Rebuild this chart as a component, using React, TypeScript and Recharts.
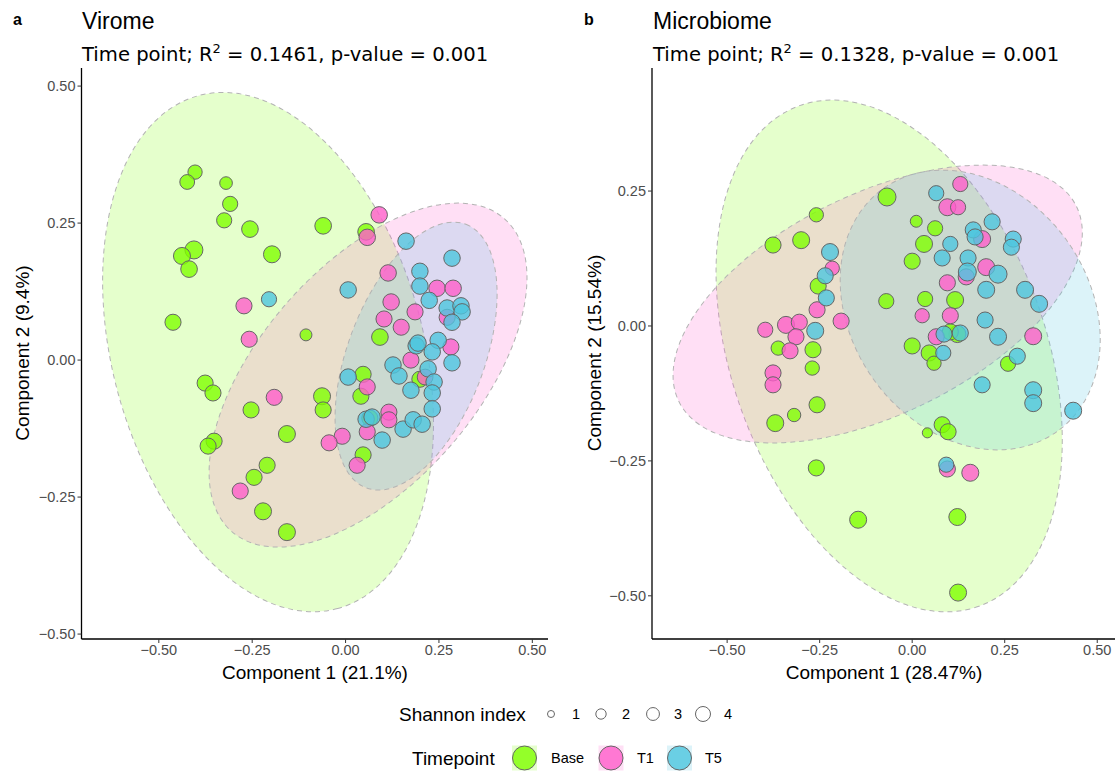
import React from 'react';
import { ScatterChart, Scatter, XAxis, YAxis, ZAxis } from 'recharts';

// ---------- categories & colours ----------
const timepoints = ['Base', 'T1', 'T5'];
const pointColors = ['#7FFF00', '#FF5ECB', '#4EC5DF'];
const shannonLegendValues = [1, 2, 3, 4];
const xTicks = [-0.5, -0.25, 0, 0.25, 0.5];
const yTicksVirome = [-0.5, -0.25, 0, 0.25, 0.5];
const yTicksMicrobiome = [-0.5, -0.25, 0, 0.25];

// ---------- Virome points [x, y, shannon] ----------
const viromeBase = [
  [-0.403, 0.343, 3.65], [-0.424, 0.325, 3.9], [-0.32, 0.323, 2.9], [-0.309, 0.285, 4.1],
  [-0.325, 0.255, 4.1], [-0.256, 0.239, 4.9], [-0.06, 0.245, 4.9], [-0.406, 0.201, 5.7],
  [-0.438, 0.19, 5.1], [-0.419, 0.166, 4.9], [-0.197, 0.193, 5.1], [-0.462, 0.069, 4.6],
  [-0.106, 0.046, 2.6], [0.055, 0.234, 4.9], [0.092, 0.042, 4.9], [-0.376, -0.042, 4.6],
  [-0.355, -0.06, 4.6], [-0.253, -0.091, 4.6], [-0.063, -0.066, 5.1], [-0.06, -0.091, 4.6],
  [0.047, -0.026, 4.6], [0.041, -0.066, 4.6], [0.199, -0.035, 4.6], [-0.352, -0.148, 4.6],
  [-0.368, -0.157, 4.6], [-0.157, -0.135, 5.1], [-0.21, -0.192, 4.6], [-0.245, -0.214, 4.6],
  [-0.221, -0.276, 5.1], [-0.157, -0.314, 5.1], [0.047, -0.173, 4.6], [0.065, -0.106, 4.6],
];
const viromeT1 = [
  [0.09, 0.265, 4.8], [0.058, 0.224, 4.8], [0.114, 0.159, 4.8], [0.245, 0.131, 4.8],
  [0.288, 0.131, 4.8], [0.272, 0.078, 4.6], [0.122, 0.106, 4.8], [0.186, 0.088, 4.6],
  [0.103, 0.075, 4.6], [0.149, 0.06, 4.6], [0.282, 0.024, 4.6], [0.175, 0.0, 4.6],
  [0.213, -0.031, 4.4], [0.058, -0.049, 4.6], [0.116, -0.095, 4.6], [0.116, -0.109, 4.6],
  [-0.009, -0.139, 4.6], [-0.044, -0.151, 4.6], [0.031, -0.192, 4.6], [0.058, -0.131, 4.6],
  [-0.272, 0.099, 4.6], [-0.258, 0.038, 4.6], [-0.191, -0.068, 4.6], [-0.282, -0.239, 4.6],
];
const viromeT5 = [
  [0.162, 0.217, 4.8], [0.285, 0.186, 4.8], [0.199, 0.162, 4.8], [0.199, 0.135, 4.8],
  [0.224, 0.109, 4.8], [0.272, 0.095, 4.8], [0.309, 0.099, 4.8], [0.312, 0.088, 4.8],
  [0.285, 0.069, 4.8], [-0.205, 0.111, 4.1], [0.007, 0.128, 4.8], [0.189, 0.026, 4.8],
  [0.194, 0.031, 4.8], [0.248, 0.036, 4.8], [0.232, 0.015, 4.8], [0.285, -0.005, 4.8],
  [0.127, -0.009, 4.8], [0.221, -0.016, 4.8], [0.143, -0.029, 4.8], [0.237, -0.04, 4.8],
  [0.175, -0.055, 4.8], [0.232, -0.06, 4.8], [0.232, -0.089, 4.8], [0.007, -0.031, 4.8],
  [0.055, -0.108, 4.8], [0.071, -0.104, 4.8], [0.154, -0.126, 4.8], [0.181, -0.109, 4.8],
  [0.205, -0.117, 4.8], [0.098, -0.146, 4.8],
];

// ---------- Microbiome points [x, y, shannon] ----------
const microBase = [
  [-0.068, 0.239, 5.7], [-0.259, 0.206, 3.65], [-0.3, 0.159, 5.1], [-0.376, 0.15, 4.6],
  [0.011, 0.194, 2.6], [0.062, 0.181, 4.1], [0.032, 0.152, 5.1], [0.0, 0.12, 4.6],
  [-0.254, 0.074, 4.6], [-0.07, 0.046, 4.1], [0.035, 0.05, 4.1], [0.116, 0.048, 5.1],
  [-0.362, -0.041, 3.65], [-0.268, -0.044, 4.6], [-0.27, -0.078, 3.65], [0.046, -0.05, 4.6],
  [0.0, -0.037, 4.6], [0.059, -0.069, 3.65], [0.122, -0.015, 5.1], [0.259, -0.07, 4.1],
  [-0.37, -0.18, 5.1], [-0.319, -0.165, 3.2], [-0.257, -0.146, 4.6], [0.041, -0.198, 1.9],
  [0.081, -0.183, 4.6], [0.097, -0.196, 4.6], [-0.259, -0.263, 4.6], [-0.146, -0.359, 5.1],
  [0.122, -0.354, 5.1], [0.124, -0.494, 5.1], [0.103, -0.011, 4.6],
];
const microT1 = [
  [0.13, 0.263, 4.1], [0.095, 0.22, 5.1], [0.124, 0.22, 4.1], [-0.216, 0.107, 3.65],
  [0.189, 0.161, 5.1], [0.2, 0.109, 5.1], [0.146, 0.091, 4.6], [-0.397, -0.007, 4.1],
  [-0.341, 0.002, 5.1], [-0.376, -0.087, 4.6], [-0.376, -0.109, 4.6], [-0.305, 0.007, 4.6],
  [-0.192, 0.009, 4.6], [-0.257, 0.03, 4.6], [-0.314, -0.02, 4.6], [-0.33, -0.046, 4.6],
  [0.065, -0.02, 4.6], [0.095, 0.08, 4.6], [0.103, 0.019, 4.6], [0.327, -0.019, 5.1],
  [0.095, -0.265, 4.6], [0.157, -0.272, 5.1], [0.027, 0.019, 3.65],
];
const microT5 = [
  [0.065, 0.246, 4.1], [0.165, 0.178, 4.6], [0.17, 0.165, 4.6], [0.216, 0.193, 4.6],
  [0.273, 0.161, 4.6], [0.268, 0.146, 4.6], [0.103, 0.152, 4.1], [0.081, 0.126, 4.6],
  [0.151, 0.126, 4.6], [0.149, 0.1, 5.7], [0.232, 0.096, 5.7], [0.2, 0.067, 5.1],
  [0.305, 0.067, 5.1], [0.343, 0.041, 5.1], [-0.222, 0.137, 5.1], [-0.235, 0.093, 4.6],
  [-0.232, 0.052, 4.6], [-0.262, -0.009, 5.1], [0.086, -0.015, 4.6], [0.13, -0.013, 4.6],
  [0.197, 0.011, 4.6], [0.084, -0.05, 4.1], [0.232, -0.02, 5.1], [0.284, -0.056, 4.6],
  [0.189, -0.109, 4.6], [0.327, -0.119, 5.1], [0.327, -0.143, 5.1], [0.435, -0.157, 5.1],
  [0.092, -0.257, 4.1],
];

// ---------- 95% ellipses: centre + two conjugate semi-diameters (data units) ----------
const viromeEllipses = [
  { group: 0, x: -0.2075, y: 0.0146, ux: 0.186, uy: -0.468, vx: -0.402, vy: -0.074 },
  { group: 1, x: 0.0602, y: -0.0274, ux: 0.3647, uy: 0.2856, vx: 0.2193, vy: -0.1301 },
  { group: 2, x: 0.1888, y: 0.0073, ux: 0.1333, uy: 0.2405, vx: 0.1711, vy: -0.044 },
];
const microEllipses = [
  { group: 0, x: -0.0622, y: -0.0556, ux: 0.2419, uy: -0.4639, vx: -0.4003, vy: -0.098 },
  { group: 1, x: -0.0932, y: 0.0407, ux: 0.537, uy: 0.1809, vx: 0.1316, vy: -0.1831 },
  { group: 2, x: 0.1568, y: 0.0296, ux: 0.2335, uy: -0.2257, vx: -0.2624, vy: -0.1274 },
];

const toPoints = (arr: number[][]) => arr.map(([x, y, z]) => ({ x, y, z }));

// ---------- styling ----------
const SANS = "'Liberation Sans', Arial, Helvetica, sans-serif";
const DEJAVU = "'DejaVu Sans', sans-serif";
const Z_DOMAIN = [1, 6];
const Z_RANGE = [38.5, 268.9];
const Y_AXIS_W = 50;
const X_AXIS_H = 30;

const fmt = (v: number) => (v < 0 ? '\u2212' : '') + Math.abs(v).toFixed(2);

const PointShape = (props: any) => {
  const { cx, cy, size, width, color } = props;
  if (cx == null || cy == null) return null;
  const r = size ? Math.sqrt(size / Math.PI) : width ? width / 2 : 6;
  return <circle cx={cx} cy={cy} r={r} fill={color} fillOpacity={0.8} stroke="#666666" strokeWidth={1} />;
};

const makeEllipseShape = (kx: number, ky: number) => (props: any) => {
  const { cx, cy, payload } = props;
  if (cx == null || cy == null || !payload) return null;
  const a = kx * payload.ux;
  const b = -ky * payload.uy;
  const c = kx * payload.vx;
  const d = -ky * payload.vy;
  const p = a * a + c * c;
  const q = b * b + d * d;
  const r = a * b + c * d;
  const disc = Math.sqrt(((p - q) / 2) ** 2 + r * r);
  const rx = Math.sqrt((p + q) / 2 + disc);
  const ry = Math.sqrt(Math.max((p + q) / 2 - disc, 0));
  const theta = (0.5 * Math.atan2(2 * r, p - q) * 180) / Math.PI;
  const col = pointColors[payload.group];
  return (
    <ellipse
      cx={cx}
      cy={cy}
      rx={rx}
      ry={ry}
      transform={`rotate(${theta} ${cx} ${cy})`}
      fill={col}
      fillOpacity={0.2}
      stroke="#b3b3b3"
      strokeWidth={1}
      strokeDasharray="5 4"
    />
  );
};

type PanelProps = {
  left: number;
  width: number;
  height: number;
  margin: { top: number; right: number; bottom: number; left: number };
  xDomain: number[];
  yDomain: number[];
  yTicks: number[];
  ellipses: any[];
  groups: number[][][];
};

const Panel = ({ left, width, height, margin, xDomain, yDomain, yTicks, ellipses, groups }: PanelProps) => {
  const plotW = width - margin.left - margin.right - Y_AXIS_W;
  const plotH = height - margin.top - margin.bottom - X_AXIS_H;
  const kx = plotW / (xDomain[1] - xDomain[0]);
  const ky = plotH / (yDomain[1] - yDomain[0]);
  const tickStyle = { fill: '#4d4d4d', fontSize: 14.5, fontFamily: SANS };
  return (
    <div style={{ position: 'absolute', left, top: 0 }}>
      <ScatterChart width={width} height={height} margin={margin}>
        <XAxis
          type="number"
          dataKey="x"
          domain={xDomain}
          ticks={xTicks}
          tickFormatter={fmt}
          height={X_AXIS_H}
          tick={tickStyle}
          tickLine={{ stroke: '#333333' }}
          tickSize={4}
          axisLine={{ stroke: '#000000', strokeWidth: 1.3 }}
          interval={0}
        />
        <YAxis
          type="number"
          dataKey="y"
          domain={yDomain}
          ticks={yTicks}
          tickFormatter={fmt}
          width={Y_AXIS_W}
          tick={tickStyle}
          tickLine={{ stroke: '#333333' }}
          tickSize={4}
          axisLine={{ stroke: '#000000', strokeWidth: 1.3 }}
          interval={0}
        />
        <ZAxis type="number" dataKey="z" domain={Z_DOMAIN} range={Z_RANGE} />
        <Scatter data={ellipses} isAnimationActive={false} shape={makeEllipseShape(kx, ky)} />
        {groups.map((g, i) => (
          <Scatter
            key={timepoints[i]}
            name={timepoints[i]}
            data={toPoints(g)}
            isAnimationActive={false}
            shape={(p: any) => <PointShape {...p} color={pointColors[i]} />}
          />
        ))}
      </ScatterChart>
    </div>
  );
};

const legendRadius = (z: number) =>
  Math.sqrt((Z_RANGE[0] + ((z - Z_DOMAIN[0]) / (Z_DOMAIN[1] - Z_DOMAIN[0])) * (Z_RANGE[1] - Z_RANGE[0])) / Math.PI);

const Overlay = () => {
  const sizeKeyX = [551, 601, 653, 703];
  const tpKeyX = [524.5, 611, 679.5];
  const tpLabelX = [551, 637, 705];
  return (
    <svg width={1117} height={771} style={{ position: 'absolute', left: 0, top: 0, pointerEvents: 'none' }}>
      {/* panel a */}
      <text x={13} y={25} fontFamily={SANS} fontWeight="bold" fontSize={16} fill="#000">a</text>
      <text x={82} y={29} fontFamily={SANS} fontSize={23} fill="#000">Virome</text>
      <text x={82} y={61} fontFamily={DEJAVU} fontSize={19.6} fill="#000">
        Time point; R<tspan dy={-8} fontSize={13}>2</tspan>
        <tspan dy={8}> = 0.1461, p-value = 0.001</tspan>
      </text>
      <text x={315} y={679} textAnchor="middle" fontFamily={SANS} fontSize={19} fill="#000">Component 1 (21.1%)</text>
      <text
        x={0}
        y={0}
        transform="translate(29 353) rotate(-90)"
        textAnchor="middle"
        fontFamily={SANS}
        fontSize={19}
        fill="#000"
      >
        Component 2 (9.4%)
      </text>

      {/* panel b */}
      <text x={584} y={25} fontFamily={SANS} fontWeight="bold" fontSize={16} fill="#000">b</text>
      <text x={653} y={29} fontFamily={SANS} fontSize={23} fill="#000">Microbiome</text>
      <text x={653} y={61} fontFamily={DEJAVU} fontSize={19.6} fill="#000">
        Time point; R<tspan dy={-8} fontSize={13}>2</tspan>
        <tspan dy={8}> = 0.1328, p-value = 0.001</tspan>
      </text>
      <text x={884} y={679} textAnchor="middle" fontFamily={SANS} fontSize={19} fill="#000">Component 1 (28.47%)</text>
      <text
        x={0}
        y={0}
        transform="translate(601 353) rotate(-90)"
        textAnchor="middle"
        fontFamily={SANS}
        fontSize={19}
        fill="#000"
      >
        Component 2 (15.54%)
      </text>

      {/* Shannon legend */}
      <text x={399} y={721} fontFamily={SANS} fontSize={19} fill="#000">Shannon index</text>
      {shannonLegendValues.map((v, i) => (
        <g key={v}>
          <circle cx={sizeKeyX[i]} cy={714} r={legendRadius(v)} fill="#ffffff" stroke="#666666" strokeWidth={1} />
          <text x={sizeKeyX[i] + 21} y={719} fontFamily={SANS} fontSize={14.5} fill="#000">{v}</text>
        </g>
      ))}

      {/* Timepoint legend */}
      <text x={412} y={765} fontFamily={SANS} fontSize={19} fill="#000">Timepoint</text>
      {timepoints.map((t, i) => (
        <g key={t}>
          <rect x={tpKeyX[i] - 12.5} y={745.5} width={25} height={25} fill={pointColors[i]} fillOpacity={0.2} />
          <circle cx={tpKeyX[i]} cy={758} r={12} fill={pointColors[i]} fillOpacity={0.8} stroke="#666666" strokeWidth={1} />
          <text x={tpLabelX[i]} y={763} fontFamily={SANS} fontSize={14.5} fill="#000">{t}</text>
        </g>
      ))}
    </svg>
  );
};

export default function App() {
  return (
    <div style={{ position: 'absolute', left: 0, top: 0, width: 1117, height: 771, background: '#ffffff', overflow: 'hidden' }}>
      <Panel
        left={0}
        width={560}
        height={700}
        margin={{ top: 68, right: 12, bottom: 31, left: 31.5 }}
        xDomain={[-0.707, 0.542]}
        yDomain={[-0.509, 0.533]}
        yTicks={yTicksVirome}
        ellipses={viromeEllipses}
        groups={[viromeBase, viromeT1, viromeT5]}
      />
      <Panel
        left={570}
        width={547}
        height={700}
        margin={{ top: 68, right: 2, bottom: 31, left: 32 }}
        xDomain={[-0.703, 0.548]}
        yDomain={[-0.58, 0.478]}
        yTicks={yTicksMicrobiome}
        ellipses={microEllipses}
        groups={[microBase, microT1, microT5]}
      />
      <Overlay />
    </div>
  );
}
